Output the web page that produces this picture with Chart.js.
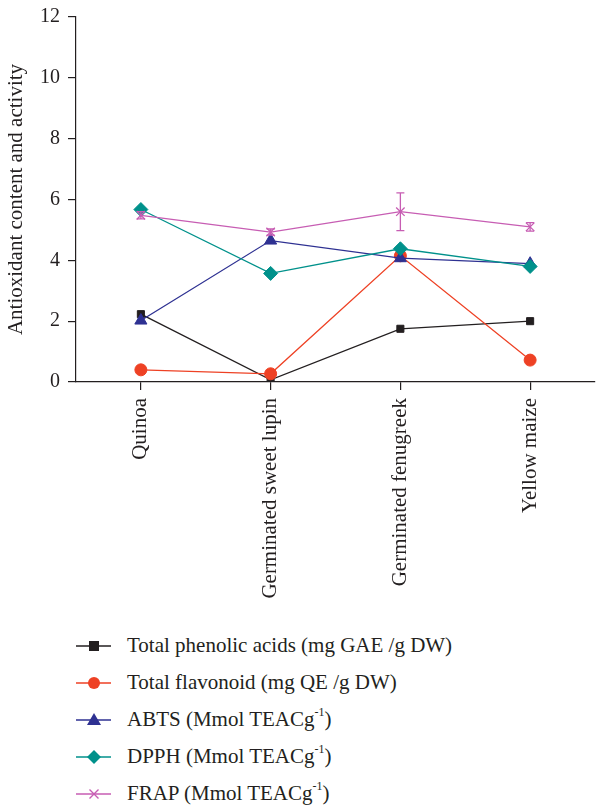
<!DOCTYPE html>
<html>
<head>
<meta charset="utf-8">
<script src="https://cdn.jsdelivr.net/npm/chart.js@4.4.1/dist/chart.umd.min.js"></script>
<style>
  body { margin: 0; background: #fff; }
  #wrap { position: relative; width: 603px; height: 810px; overflow: hidden; }
  #chart { position: absolute; left: 0; top: -3px; }
  #legend { position: absolute; left: 76px; top: 627px; font-family: "Liberation Serif", "Times New Roman", "DejaVu Serif", serif; font-size: 21px; color: #231f20; }
  .row { height: 37px; display: flex; align-items: center; white-space: nowrap; position: relative; }
  .row svg { margin-right: 16px; }
  .row sup { font-size: 12px; position: relative; top: -2px; }
</style>
</head>
<body>
<div id="wrap">
  <canvas id="chart" width="603" height="623"></canvas>
  <div id="legend"></div>
</div>
<script>
const categories = ['Quinoa', 'Germinated sweet lupin', 'Germinated fenugreek', 'Yellow maize'];
const phenolic = [2.23, 0.07, 1.75, 2.0];
const flavonoid = [0.4, 0.27, 4.15, 0.72];
const abts = [2.02, 4.65, 4.07, 3.89];
const dpph = [5.67, 3.57, 4.38, 3.8];
const frap = [5.48, 4.93, 5.6, 5.1];
const frapErr = [0.12, 0.1, 0.62, 0.14];
const yTicks = [0, 2, 4, 6, 8, 10, 12];

const FONT = '"Liberation Serif", "Times New Roman", "DejaVu Serif", serif';
const INK = '#231f20';

const series = [
  { label: 'Total phenolic acids (mg GAE /g DW)', data: phenolic, color: INK, style: 'rect', r: 5, order: 4 },
  { label: 'Total flavonoid (mg QE /g DW)', data: flavonoid, color: '#ee4124', style: 'circle', r: 6, order: 3 },
  { label: 'ABTS (Mmol TEACg<sup>-1</sup>)', data: abts, color: '#2e3192', style: 'triangle', r: 7, order: 2 },
  { label: 'DPPH (Mmol TEACg<sup>-1</sup>)', data: dpph, color: '#00918b', style: 'rectRot', r: 7, order: 1 },
  { label: 'FRAP (Mmol TEACg<sup>-1</sup>)', data: frap, color: '#c75db3', style: 'crossRot', r: 6, order: 0, err: frapErr },
];

// vertical error bars with small caps
const errorBars = {
  id: 'errorBars',
  afterDatasetsDraw(chart) {
    const ctx = chart.ctx;
    const y = chart.scales.y;
    chart.data.datasets.forEach((ds, i) => {
      if (!ds.err) return;
      const meta = chart.getDatasetMeta(i);
      ctx.save();
      ctx.strokeStyle = ds.borderColor;
      ctx.lineWidth = 1.3;
      meta.data.forEach((pt, j) => {
        const top = y.getPixelForValue(ds.data[j] + ds.err[j]);
        const bot = y.getPixelForValue(ds.data[j] - ds.err[j]);
        ctx.beginPath();
        ctx.moveTo(pt.x, top); ctx.lineTo(pt.x, bot);
        ctx.moveTo(pt.x - 4, top); ctx.lineTo(pt.x + 4, top);
        ctx.moveTo(pt.x - 4, bot); ctx.lineTo(pt.x + 4, bot);
        ctx.stroke();
      });
      ctx.restore();
    });
  }
};

new Chart(document.getElementById('chart'), {
  type: 'line',
  data: {
    labels: categories,
    datasets: series.map(s => ({
      label: s.label,
      data: s.data,
      err: s.err,
      order: s.order,
      borderColor: s.color,
      backgroundColor: s.color,
      borderWidth: 1.3,
      pointStyle: s.style,
      pointRadius: s.r,
      pointBorderWidth: s.style === 'crossRot' ? 1.3 : 1,
      tension: 0,
    })),
  },
  plugins: [errorBars],
  options: {
    responsive: false,
    animation: false,
    layout: { padding: { top: 13, left: 0, right: 0, bottom: 0 } },
    plugins: { legend: { display: false }, tooltip: { enabled: false } },
    scales: {
      x: {
        offset: true,
        grid: { drawOnChartArea: false, drawTicks: true, tickLength: 8, color: INK, lineWidth: 1.2 },
        border: { color: INK, width: 1.2 },
        ticks: { color: INK, font: { family: FONT, size: 21 }, minRotation: 90, maxRotation: 90, padding: 8, autoSkip: false },
        afterFit(scale) { scale.height = 238; },
      },
      y: {
        min: 0,
        max: 12,
        afterBuildTicks(scale) { scale.ticks = yTicks.map(v => ({ value: v })); },
        grid: { drawOnChartArea: false, drawTicks: true, tickLength: 8, color: INK, lineWidth: 1.2 },
        border: { color: INK, width: 1.2 },
        ticks: { color: INK, font: { family: FONT, size: 20 }, padding: 8 },
        title: { display: true, text: 'Antioxidant content and activity', color: INK, font: { family: FONT, size: 21 }, padding: { top: 4, bottom: 0 } },
        afterFit(scale) { scale.width = 76; },
      },
    },
  },
});

// html legend so the superscripts stay real text
function marker(s) {
  const c = s.color;
  let m = '';
  if (s.style === 'rect') m = `<rect x="13" y="5" width="10" height="10" fill="${c}"/>`;
  else if (s.style === 'circle') m = `<circle cx="18" cy="10" r="6" fill="${c}"/>`;
  else if (s.style === 'triangle') m = `<polygon points="18,3 25,15 11,15" fill="${c}"/>`;
  else if (s.style === 'rectRot') m = `<polygon points="18,3 25,10 18,17 11,10" fill="${c}"/>`;
  else m = `<path d="M13.5 5.5 L22.5 14.5 M22.5 5.5 L13.5 14.5" stroke="${c}" stroke-width="1.4"/>`;
  return `<svg width="35" height="20"><line x1="0" y1="10" x2="35" y2="10" stroke="${c}" stroke-width="1.4"/>${m}</svg>`;
}
document.getElementById('legend').innerHTML = series
  .map(s => `<div class="row">${marker(s)}<span>${s.label}</span></div>`)
  .join('');
</script>
</body>
</html>
